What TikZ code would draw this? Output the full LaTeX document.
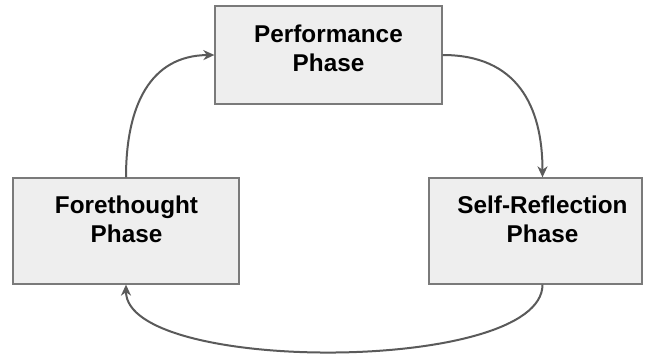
\documentclass[tikz,border=0pt]{standalone}
\usepackage{fontspec}
\setmainfont{Liberation Sans}
\usetikzlibrary{arrows.meta}
\begin{document}
\begin{tikzpicture}[x=1pt,y=-1pt,
  phasebox/.style={draw=boxline,fill=boxfill,line width=1.3pt,inner sep=0pt,rectangle},
  phasetext/.style={font=\fontsize{24.3}{29.3}\selectfont\bfseries,align=center,inner sep=0pt,anchor=base},
  cycle/.style={draw=arrowline,line width=2pt,-{Stealth[length=11pt,width=10pt,inset=3.5pt]}}]
\definecolor{boxline}{HTML}{7A7A7A}
\definecolor{boxfill}{HTML}{EEEEEE}
\definecolor{arrowline}{HTML}{5A5A5A}
\useasboundingbox (0,0) rectangle (645,358);
\fill[white] (0,0) rectangle (645,358);
\node[phasebox,minimum width=227pt,minimum height=98pt] (perf) at (328.5,55) {};
\node[phasebox,minimum width=226pt,minimum height=106pt] (fore) at (126,231) {};
\node[phasebox,minimum width=213pt,minimum height=106pt] (self) at (535.5,231) {};
\node[phasetext] (perft) at (328.5,71.7) {Performance\\Phase};
\node[phasetext] (foret) at (126.5,242.4) {Forethought\\Phase};
\node[phasetext] (selft) at (542.5,242.7) {Self-Reflection\\Phase};
\coordinate (selftop) at ([xshift=7pt]self.north);
\coordinate (selfbot) at ([xshift=7pt]self.south);
\draw[cycle] (fore.north) .. controls (126,106) and (150,55.5) .. (perf.west);
\draw[cycle] (perf.east) .. controls (517,55) and (542.5,106) .. (selftop);
\draw[cycle] (selfbot) .. controls (542.5,374) and (126,374) .. (fore.south);
\end{tikzpicture}
\end{document}
